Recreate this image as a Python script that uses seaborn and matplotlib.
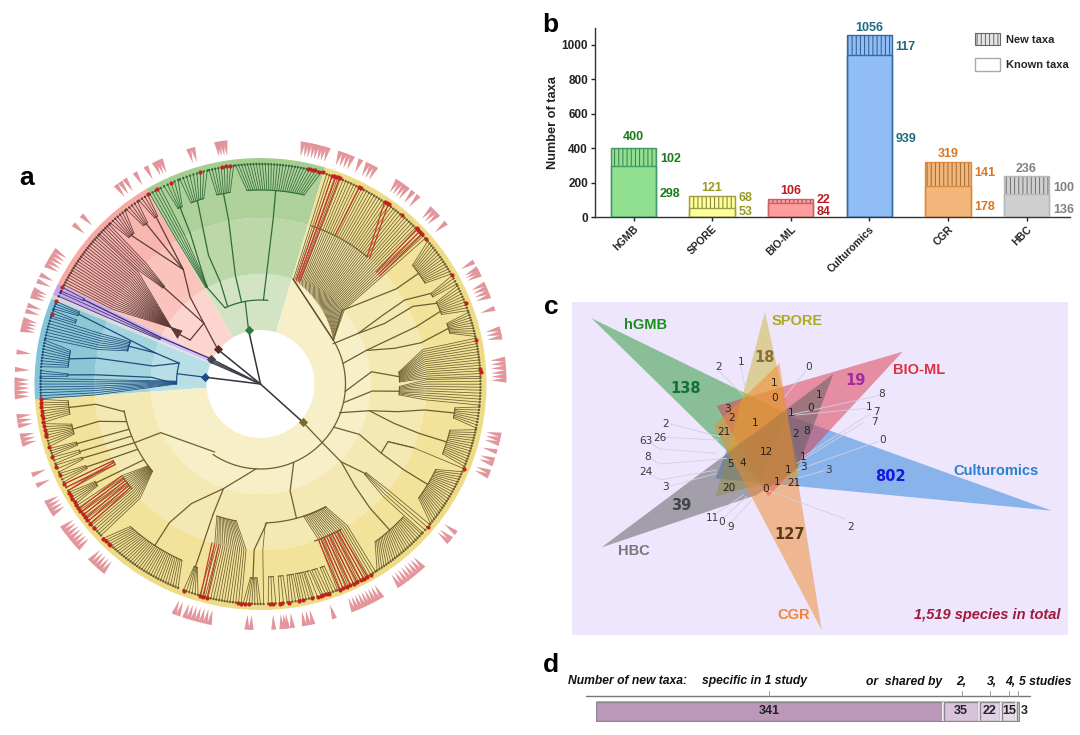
import numpy as np
import pandas as pd
import matplotlib
matplotlib.use("Agg")
import matplotlib.pyplot as plt
from matplotlib.patches import Patch, Polygon
import seaborn as sns

# ── panel b ──────────────────────────────────────────────
studies = ["hGMB", "SPORE", "BIO-ML", "Culturomics", "CGR", "HBC"]
new_taxa = [102, 68, 22, 117, 141, 100]
known_taxa = [298, 53, 84, 939, 178, 136]
total_taxa = [400, 121, 106, 1056, 319, 236]

# ── panel d ──────────────────────────────────────────────
shared_counts = [341, 35, 22, 15, 3]

# ── panel c ──────────────────────────────────────────────
venn_names = ["hGMB", "SPORE", "BIO-ML", "Culturomics", "CGR", "HBC"]
venn_unique = [138, 18, 19, 802, 127, 39]
venn_inner = [("1", 612, 248), ("0", 613, 295), ("1", 746, 284), ("0", 721, 323), ("1", 663, 338),
              ("3", 473, 328), ("2", 484, 353), ("1", 555, 369), ("21", 463, 397), ("2", 678, 403),
              ("8", 710, 392), ("12", 589, 455), ("5", 480, 491), ("4", 518, 489), ("1", 698, 472),
              ("3", 702, 500), ("1", 654, 510), ("1", 622, 545), ("21", 671, 549), ("20", 477, 565),
              ("0", 586, 566)]
venn_outer = [("2", 445, 200), ("1", 512, 185), ("0", 715, 200), ("8", 935, 283), ("1", 897, 320),
              ("7", 918, 336), ("7", 913, 366), ("0", 938, 421), ("3", 776, 510), ("2", 288, 373),
              ("26", 270, 415), ("63", 228, 424), ("8", 233, 470), ("24", 228, 517), ("3", 288, 562),
              ("11", 428, 653), ("0", 455, 665), ("9", 481, 680), ("2", 842, 681)]

# ── panel a: wedge marks outside of the ring, degrees ────
marks = [176.6, 179, 180, 181, 182, 183, 187.6, 188.7, 189.8, 192.2, 193.2, 194.2, 201.7, 204.4,
         209, 210, 211, 212, 216, 217, 218, 219, 220, 221, 222, 226, 227, 228, 229, 230,
         249.4, 250.4, 252, 253, 254, 255, 256, 257, 258, 266.8, 267.8, 273.1, 275, 275.7, 276.3,
         277.5, 280.3, 281.3, 282.3, 287.5, 292.3, 293.2, 294.1, 295, 295.9, 296.8, 297.7, 298.6,
         299.6, 304.5, 305.5, 306.5, 307.5, 308.5, 309.5, 310.5, 311.5, 320, 320.9, 322.7,
         338, 339, 341, 342, 344, 346, 347, 348, 0.9, 1.8, 2.7, 3.8, 4.8, 5.8, 11, 12, 13, 17.9,
         21, 22, 23, 24, 26.5, 27.3, 28, 29.8, 41, 43.7, 44.7, 45.7, 50, 51.6, 53.2, 54.1, 55.1, 56,
         62, 63, 64, 65.9, 68, 69, 70, 71, 74, 74.9, 75.7, 76.6, 77.4, 78.3, 79.1, 80,
         98.3, 99, 99.7, 100.3, 106, 107, 114, 114.8, 115.6, 117.8, 120.7, 123.5, 124.8, 126,
         136.7, 139.5, 147, 148, 149, 150, 151, 153.6, 155.2, 157.4, 158.2, 159, 161.3, 162.7,
         164.8, 165.6, 166.4, 167.2, 172.5]

# red tips
red_tips = [73.6, 74.5, 75.6, 76.3, 77, 77.5, 98, 99, 100, 106, 114, 118, 120.6, 154, 158, 161.4,
            184, 185, 186, 187, 188, 189, 190, 191, 192, 193, 193.7, 196.5, 199.2, 202, 204.5, 207,
            209.6, 210.5, 211.5, 212.5, 213.4, 214.2, 215.2, 216.2, 217.2, 218.2, 219.5, 220.8,
            224.5, 225.5, 226.5, 227, 249.7, 254.2, 255, 256, 264.2, 265, 266, 267, 272.4, 273.2,
            275, 275.6, 277.5, 280, 281, 283.4, 285, 285.8, 286.6, 287.4, 288, 291, 292, 293, 294,
            295, 296, 297, 298, 299, 300, 319.6, 337.4, 3.2, 4, 11.6, 21.5, 29.5, 41.2, 42.9, 43.6,
            44.3, 44.9, 50.1, 54.5, 55, 55.7, 63, 63.5, 69, 69.5, 70, 70.5, 71]

# (tip from, tip to, tips, base radius, base from, base to)
fans = {
    "green": [(120.2, 117, 5, 111, 119.5, 118.5), (116, 112, 5, 194, 115.2, 113.8),
              (111.5, 104, 9, 194, 111, 107), (103.5, 97, 9, 194, 103, 99), (96.5, 74, 30, 194, 94, 77)],
    "red": [(120.8, 123.5, 4, 197, 121.5, 122.5), (124, 127.5, 5, 197, 125, 126.5),
            (128, 133, 7, 197, 130, 132), (133.5, 137, 6, 137, 134.5, 135.5),
            (137.5, 153.2, 23, 95, 151, 146)],
    "purple": [(154, 155, 2, 196, 154.2, 154.8), (155.5, 156.5, 2, 110, 155.7, 156.2)],
    "blue": [(158, 160, 4, 195, 158.3, 159.5), (160.5, 162, 3, 195, 160.8, 161.8),
             (162.5, 168, 8, 137, 162, 166), (168.5, 175.5, 10, 193, 170, 175),
             (176.5, 178, 3, 193, 177, 177.7), (178.5, 183.8, 8, 84, 178, 180)],
    "yellow": [(184, 190, 9, 193, 185, 189), (190.4, 196.5, 9, 193, 192, 195), (197, 199, 4, 193, 197.5, 198.5),
               (199.4, 201.2, 3, 193, 200, 201), (201.6, 203.6, 3, 193, 202.3, 203), (204, 206.5, 4, 193, 205, 206),
               (207, 209, 3, 166, 207.5, 209), (209.5, 213, 6, 192, 210.5, 212), (213.5, 223.5, 15, 139, 216, 219),
               (224.5, 248, 34, 193, 227.6, 246), (249.5, 253.5, 6, 194, 250, 251), (254, 265, 16, 139, 251.7, 260),
               (265.5, 270, 7, 194, 267, 269), (270.8, 270.8, 1, 139, 272, 272), (272, 274, 3, 193, 272.4, 273.8),
               (275, 277, 3, 193, 275.3, 276.7), (277.5, 280, 4, 193, 277.9, 279.8), (280.5, 283.5, 5, 193, 280.4, 282.9),
               (284, 286, 3, 193, 283.3, 284.8), (286.5, 288, 3, 193, 285.4, 287), (288.5, 290, 3, 193, 288, 289.3),
               (290.5, 301.5, 16, 139, 288, 298), (302, 317, 22, 195, 306, 317), (317.5, 320.3, 4, 138, 319, 320),
               (320.6, 336.5, 23, 195, 324.2, 334), (337.4, 337.4, 1, 140, 335.7, 335.7),
               (338, 348, 15, 195, 339, 346.3), (348.5, 354, 8, 196, 350, 353), (354.5, 361.5, 10, 139, 355.5, 359),
               (362, 372, 15, 139, 360.8, 365), (372.5, 379, 10, 196, 375, 378), (379.5, 386.5, 10, 194, 381, 385),
               (387, 389.5, 4, 193, 386.8, 388), (390, 400.5, 15, 193, 391.5, 398)],
}

branches = {
    "green": [[(119, 111), (115, 166), (114.5, 194)], [(115, 84), (119, 111)], [(113, 84), (111.5, 110), (112, 139), (109, 194)],
              [(103, 84), (103, 112), (101, 167), (101, 194)], [(88, 84), (85.6, 166), (85.5, 194)],
              [(102.5, 55), (100.5, 84)]],
    "red": [[(141, 55), (133, 83)], [(133, 83), (129, 112), (124, 138), (122, 197)], [(124, 138), (125.5, 197)],
            [(124, 138), (131, 197)], [(133, 83), (148, 83)], [(133, 83), (135, 137)], [(148, 83), (148.5, 95)]],
    "purple": [[(153, 55), (155, 110)], [(155, 110), (154.5, 196)]],
    "blue": [[(173, 56), (173, 84)], [(163.5, 110), (165.6, 84)], [(163.5, 110), (164, 137)],
             [(163.5, 110), (159, 195)], [(172.5, 193), (171, 165), (170.5, 109), (165.6, 84)],
             [(177.3, 193), (176.8, 165), (176.5, 109), (180, 84)]],
    "yellow": [[(318, 57), (316.5, 85), (316, 112), (312.7, 140)], [(312.7, 140), (311.4, 166), (311.5, 195)],
               [(316, 112), (319.5, 138)], [(236, 82), (206, 111), (205, 139)],
               [(191.5, 139), (187, 166), (187, 193)], [(195.7, 139), (193, 166), (193.5, 193)],
               [(199, 139), (198, 193)], [(202, 139), (200.5, 193)], [(205, 139), (202.6, 193)], [(208, 139), (205.5, 193)],
               [(213, 139), (211, 192)], [(267, 85), (250.5, 111), (240, 138), (236.7, 166), (236.8, 193)],
               [(250.5, 111), (250, 139)], [(250, 139), (250.4, 194)], [(293, 85), (285.5, 111), (285, 139)],
               [(272.6, 139), (267.8, 166), (267.8, 193)], [(329.5, 85), (333, 111), (330.2, 139), (329.1, 167), (329, 195)],
               [(330.2, 139), (335.7, 140), (337.4, 166)], [(340, 84), (346.2, 112), (343.6, 139), (342.7, 166), (342.7, 195)],
               [(346.2, 112), (348.6, 140), (351, 166), (351.5, 196)], [(347.6, 85.7), (356.4, 112), (357, 139)],
               [(355, 85), (6.3, 111.7), (3, 139)], [(14, 85), (17.6, 111), (19.2, 139), (20.2, 166), (22, 194)],
               [(17.6, 111), (14.9, 139), (14.4, 166), (16.5, 196)], [(29, 83), (27.4, 110), (29.4, 141), (30.2, 167), (28, 193)],
               [(27.4, 110), (26, 138), (27, 171), (24.6, 194)], [(42, 110), (35, 166), (35, 193)], [(31, 85), (42, 110)]],
}
backbones = {"green": [(85, 115, 84)], "red": [], "blue": [(165.6, 180, 84), (162, 166, 137)],
             "yellow": [(-124, 31, 85), (-87.5, -62, 139), (-71, -61, 166), (191, 219, 139), (214, 219, 166)],
             "purple": []}
reds = [[(71, 220), (71, 110)], [(70, 220), (70, 110)], [(69, 220), (69, 110)], [(63.3, 220), (63.3, 166)],
        [(55.7, 220), (50, 166)], [(54.6, 220), (49, 166)], [(44.8, 220), (44, 161)], [(43.8, 220), (43, 161)],
        [(42.8, 220), (42.2, 161)], [(255, 220), (254, 166)], [(256, 220), (255.5, 166)], [(254.2, 220), (253, 166)],
        [(207, 220), (207.5, 166)], [(208, 220), (209, 166)], [(209, 220), (208, 166)]]
reds += [[(t, 220), (t - 0.6, 166)] for t in [291, 292, 293, 294, 295, 296, 297, 298, 299]]
reds += [[(t, 220), (t - 1, 166)] for t in [214.5, 215.5, 216.5, 217.5, 218.5, 219.5]]
nodes = [(102.5, 55, "#2e7d3a"), (141, 55, "#5b2a2a"), (153, 55, "#444450"), (173, 56, "#1f4f82"), (318, 57, "#7d6a2a")]

ring_colors = {
    "green": (73.4, 120.4, ["#d2e4c4", "#bcd7a8", "#aed09a", "#a5cd8f"]),
    "red": (120.4, 153.6, ["#fcd5cf", "#fac3bc", "#f9b5b0", "#f7aaa3"]),
    "purple": (153.6, 156.8, ["#d5c0f5", "#cdb4ee", "#c7a8ec", "#c4a2ee"]),
    "grey": (156.8, 157.8, ["#e4e4e4", "#dddddd", "#d6d6d6", "#d0d0d0"]),
    "blue": (157.8, 184, ["#b9dfe6", "#a4d4dd", "#8cc7d4", "#84c4d6"]),
    "yellow": (184, 433.4, ["#f6efc7", "#f5e9b3", "#f2e29a", "#efdb84"]),
}
ring_edges = [54, 110, 166, 221, 226]
line_colors = {"green": "#2f6b3a", "red": "#5f3a36", "purple": "#3a2f6a", "blue": "#1d4d80", "yellow": "#6d5e2e"}

sns.set_theme(style="white")
plt.rcParams['font.family'] = ['Liberation Sans', 'DejaVu Sans']
plt.rcParams['hatch.linewidth'] = 0.7

W, H = 1080, 735
fig = plt.figure(figsize=(W / 100, H / 100), dpi=100, facecolor="white")


def rect(l, t, r, b, **kw):
    return fig.add_axes([l / W, 1 - b / H, (r - l) / W, (b - t) / H], **kw)


def ft(x, y, s, **kw):
    kw.setdefault("ha", "center")
    kw.setdefault("va", "center")
    fig.text(x / W, 1 - y / H, s, **kw)


# ══════════════ a: circular tree ══════════════
ax_a = rect(0.5, 124, 520.5, 644, projection="polar")
ax_a.set_axis_off()
ax_a.set_rlim(0, 260)

for name, (t0, t1, cols) in ring_colors.items():
    for r0, r1, c in zip(ring_edges[:-1], ring_edges[1:], cols):
        ax_a.bar(np.radians((t0 + t1) / 2), r1 - r0, width=np.radians(t1 - t0), bottom=r0,
                 color=c, linewidth=0, zorder=1)


def polyline(pts, color, lw, z=3):
    ax_a.plot(np.radians([p[0] for p in pts]), [p[1] for p in pts], color=color, lw=lw, zorder=z,
              solid_capstyle="round")


def arc(t0, t1, r, color, lw):
    th = np.radians(np.linspace(t0, t1, 60))
    ax_a.plot(th, np.full(60, r), color=color, lw=lw, zorder=3)


tips = []
for clade, items in fans.items():
    col = line_colors[clade]
    for tip0, tip1, n, base_r, b0, b1 in items:
        tt = np.linspace(tip0, tip1, n)
        bb = np.linspace(b0, b1, n)
        for t, b in zip(tt, bb):
            # long lines stay radial out to the node ring, then gather towards the base
            if base_r < 150:
                polyline([(t, 220), (t, 166), (b, base_r)], col, 0.55)
            else:
                polyline([(t, 220), (b, base_r)], col, 0.55)
        if n > 1:
            arc(b0, b1, base_r, col, 0.8)
        tips += [(t, col) for t in tt]
    for pts in branches[clade]:
        polyline(pts, col, 0.9)
    for t0, t1, r in backbones[clade]:
        arc(t0, t1, r, col, 0.9)

# NE comb of the yellow clade, gathered on a slanted ribbon
comb_tips = np.linspace(41.5, 72.5, 42)
ribbon_t = np.linspace(31, 72.8, 42)
ribbon_r = np.linspace(85, 110, 42)
for t, b, r in zip(comb_tips, ribbon_t, ribbon_r):
    polyline([(t, 220), (t, 112), (b, r)], line_colors["yellow"], 0.55)
tips += [(t, line_colors["yellow"]) for t in comb_tips]
arc(50, 72.5, 166, line_colors["yellow"], 0.8)
polyline([(72.8, 110), (31, 85)], "#5b4c22", 1.1)

for pts in reds:
    polyline(pts, "#c8342a", 0.85, z=4)

ax_a.scatter(np.radians([t[0] for t in tips]), np.full(len(tips), 220), s=3.2,
             c=[t[1] for t in tips], linewidths=0, zorder=5)
ax_a.scatter(np.radians(red_tips), np.full(len(red_tips), 220.5), s=9, c="#c4201c", linewidths=0, zorder=6)

# root and clade nodes
for t, r, c in nodes:
    polyline([(0, 0), (t, r)], "#333338", 1.1, z=4)
    ax_a.scatter(np.radians(t), r, s=22, marker="D", c=c, linewidths=0, zorder=6)
polyline([(0, 0), (155, 55)], "#444450", 1.0, z=4)
polyline([(0, 0), (156.5, 56)], "#444450", 1.0, z=4)

# wedges round the ring
for t in marks:
    ax_a.fill(np.radians([t - 0.6, t + 0.6, t]), [246, 246, 231], color="#e2959b", linewidth=0, zorder=2)

# ══════════════ b: stacked bars ══════════════
bar_fill = ["#90e090", "#ffff99", "#ff9c9c", "#90bdf6", "#f2b67a", "#cfcfcf"]
bar_edge = ["#3f9a66", "#9c9c4d", "#c5646a", "#2f6d9d", "#d98a3c", "#b8b8b8"]
hatch_edge = ["#3c7a50", "#77773a", "#a04a50", "#2c5a88", "#9c6a30", "#6e6e6e"]
lab_color = ["#1a7a1a", "#9a9a1f", "#b81c24", "#1f6a80", "#d9761f", "#808080"]
df = pd.DataFrame({"study": studies, "total": total_taxa, "known": known_taxa, "new": new_taxa})

ax_b = rect(595, 27.7, 1070, 217)
sns.barplot(data=df, x="study", y="total", hue="study", palette=bar_fill, saturation=1, width=0.579,
            legend=False, ax=ax_b)
for p, c in zip(ax_b.patches, hatch_edge):
    p.set_hatch("||||")
    p.set_edgecolor(c)
    p.set_linewidth(0.6)
n_first = len(ax_b.patches)
sns.barplot(data=df, x="study", y="known", hue="study", palette=bar_fill, saturation=1, width=0.579,
            legend=False, ax=ax_b)
for p, c in zip(ax_b.patches[n_first:], bar_edge):
    p.set_edgecolor(c)
    p.set_linewidth(1.0)
for p, c in zip(ax_b.patches[:n_first], bar_edge):
    ax_b.add_patch(Polygon(p.get_corners(), closed=True, fill=False, edgecolor=c, linewidth=1.0, zorder=4))

ax_b.set_xlim(-0.49, 5.553)
ax_b.set_ylim(0, 1100)
ax_b.set_yticks(range(0, 1001, 200))
ax_b.set_xlabel("")
ax_b.set_ylabel("Number of taxa", fontsize=9.2, fontweight="bold", color="#222222", labelpad=2)
ax_b.tick_params(axis="y", left=True, length=3, width=1, pad=2, labelsize=8.5, colors="#222222")
ax_b.tick_params(axis="x", bottom=True, length=3, width=1, pad=2, colors="#222222")
for lab in ax_b.get_yticklabels():
    lab.set_fontweight("bold")
ax_b.set_xticks(range(6))
ax_b.set_xticklabels(studies, rotation=45, ha="right", rotation_mode="anchor", fontsize=7.5, fontweight="bold")
for s in ["top", "right"]:
    ax_b.spines[s].set_visible(False)
for s in ["left", "bottom"]:
    ax_b.spines[s].set_color("#333333")
    ax_b.spines[s].set_linewidth(1)

# labels, anchored by hand next to each bar
top_y = [467, 170, 151, 1097, 366, 278]
new_y = [337, 112, 99, 985, 255, 168]
known_y = [132, 28, 28, 453, 58, 40]
for i in range(6):
    ax_b.text(i, top_y[i], str(total_taxa[i]), color=lab_color[i], fontsize=9, fontweight="bold",
              ha="center", va="center", clip_on=False)
    ax_b.text(i + 0.335, new_y[i], str(new_taxa[i]), color=lab_color[i], fontsize=9, fontweight="bold",
              ha="left", va="center", clip_on=False)
    ax_b.text(i + 0.335, known_y[i], str(known_taxa[i]), color=lab_color[i], fontsize=9, fontweight="bold",
              ha="left", va="center", clip_on=False)

ax_b.legend(handles=[Patch(facecolor="#e4e4e4", edgecolor="#666666", hatch="||||", lw=0.8, label="New taxa"),
                     Patch(facecolor="white", edgecolor="#aaaaaa", lw=1, label="Known taxa")],
            loc="upper left", bbox_to_anchor=(0.80, 0.972), frameon=False, handlelength=2.25,
            handleheight=1.35, labelspacing=1.17, handletextpad=0.55, borderpad=0, borderaxespad=0,
            prop={"size": 8, "weight": "bold", "family": "Liberation Sans"})

# ══════════════ c: six-set venn ══════════════
shapes = {
    "hGMB": ([(65, 55), (650, 340), (570, 550)], "#2f9a3a"),
    "SPORE": ([(585, 35), (437, 590), (690, 520)], "#cdb93e"),
    "BIO-ML": ([(998, 155), (440, 318), (595, 590)], "#dc3c52"),
    "Culturomics": ([(1445, 632), (650, 345), (470, 450), (437, 535)], "#2e86dc"),
    "CGR": ([(755, 990), (433, 378), (628, 190)], "#f08a30"),
    "HBC": ([(95, 742), (790, 222), (680, 510), (560, 585)], "#5f5f5f"),
}
draw_order = ["Culturomics", "hGMB", "BIO-ML", "SPORE", "HBC", "CGR"]
name_pos = [(227, 75), (680, 62), (1048, 210), (1278, 512), (672, 945), (192, 752)]
name_col = ["#1a8f1a", "#aeaa1d", "#e0303f", "#2a7fd0", "#f0862d", "#777777"]
uniq_pos = [(347, 265), (583, 172), (857, 241), (960, 531), (660, 704), (333, 618)]
uniq_col = ["#12703a", "#8a6d3b", "#a02ca0", "#1717e0", "#5a3a15", "#444444"]
leaders = [[(445, 212), (520, 285)], [(512, 197), (525, 260)], [(708, 212), (645, 290)], [(925, 287), (660, 345)],
           [(888, 325), (680, 345)], [(900, 342), (700, 470)], [(880, 368), (680, 490)], [(925, 424), (680, 510)],
           [(765, 511), (680, 535)], [(300, 372), (450, 410)], [(285, 412), (445, 420)],
           [(245, 432), (270, 447), (440, 460)], [(245, 478), (270, 492), (470, 475)],
           [(245, 525), (270, 540), (440, 510)], [(300, 558), (440, 520)], [(440, 640), (520, 585)],
           [(462, 652), (530, 590)], [(485, 665), (545, 600)], [(825, 657), (590, 570)]]

ax_c = rect(572, 302, 1068, 635)
ax_c.set_facecolor("#ede6fc")
ax_c.set_xlim(6, 1494)
ax_c.set_ylim(1005, 6)
ax_c.set_xticks([])
ax_c.set_yticks([])
for s in ax_c.spines.values():
    s.set_visible(False)
for name in draw_order:
    pts, col = shapes[name]
    ax_c.add_patch(Polygon(pts, closed=True, facecolor=col, edgecolor="none", alpha=0.52, zorder=2))
for pts in leaders:
    ax_c.plot([p[0] for p in pts], [p[1] for p in pts], color="#d4cfe0", lw=0.6, zorder=3)
for i, name in enumerate(venn_names):
    ax_c.text(*name_pos[i], name, color=name_col[i], fontsize=10.5, fontweight="bold", ha="center", va="center", zorder=5)
    ax_c.text(*uniq_pos[i], str(venn_unique[i]), color=uniq_col[i], fontsize=10.5, fontweight="bold",
              family="DejaVu Sans", ha="center", va="center", zorder=5)
for s, x, y in venn_inner:
    ax_c.text(x, y, s, color="#2a2018", fontsize=7.6, family="DejaVu Sans", ha="center", va="center", zorder=5)
for s, x, y in venn_outer:
    ax_c.text(x, y, s, color="#3a3a3a", fontsize=7.6, family="DejaVu Sans", ha="center", va="center", zorder=5)
ax_c.text(1253, 945, "1,519 species in total", color="#a01a3a", fontsize=10.5, fontweight="bold", style="italic",
          ha="center", va="center", zorder=5)

# ══════════════ d: shared bar ══════════════
cum = np.cumsum(shared_counts)
seg_cols = ["#bb98ba", "#d9c3da", "#e0d0e4", "#e6d9ea", "#e6e6e6"]
ax_d = rect(596, 701, 1020, 722)
for c, col in zip(cum[::-1], seg_cols[::-1]):
    sns.barplot(x=[c], y=["new"], color=col, saturation=1, width=1, orient="h", edgecolor="#8f8590",
                linewidth=1, ax=ax_d)
ax_d.set_xlim(0, 424 / 1.018)
ax_d.set_axis_off()
ax_d.vlines(cum[:-1] - 1, -0.5, 0.5, color="#8f8590", lw=1, zorder=5)
ax_d.vlines(cum[:-1], -0.5, 0.5, color="white", lw=1.2, zorder=5)
ax_d.vlines(cum[:-1] + 1, -0.5, 0.5, color="#8f8590", lw=1, zorder=5)
for s, c, prev in zip(shared_counts, cum, np.r_[0, cum[:-1]]):
    ax_d.text(prev + s / 2 + (2.5 if s == 3 else 0), 0, str(s), fontsize=9, fontweight="bold", color="#222222",
              ha="left" if s == 3 else "center", va="center", zorder=6)

# rule with ticks and the heading above it
ax_f = fig.add_axes([0, 0, 1, 1], zorder=-1)
ax_f.set_xlim(0, W)
ax_f.set_ylim(H, 0)
ax_f.set_axis_off()
ax_f.plot([586, 1030], [695.7, 695.7], color="#777777", lw=1)
for x in [769, 962, 990, 1009, 1018]:
    ax_f.plot([x, x], [691, 695.7], color="#999999", lw=0.7)
head = [("Number of new taxa:", 627, 681), ("specific in 1 study", 755, 681), ("or  shared by", 904, 682),
        ("2,", 961, 682), ("3,", 992, 682), ("4,", 1010, 682), ("5 studies", 1045, 682)]
for s, x, y in head:
    ft(x, y, s, fontsize=8.7, fontweight="bold", style="italic", color="#111111")

for s, x, y in [("a", 27, 178), ("b", 550, 25), ("c", 551, 307), ("d", 551, 665)]:
    ft(x, y, s, fontsize=19, fontweight="bold", color="black")

fig.savefig("out.png", dpi=100)
